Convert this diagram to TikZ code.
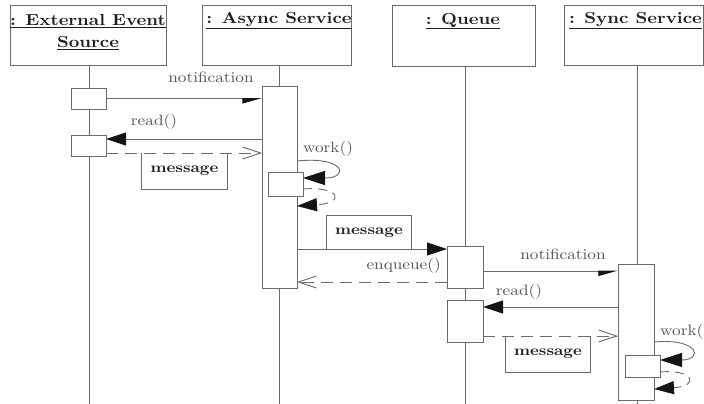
\documentclass[tikz,border=0pt]{standalone}
\usepackage{fontspec}
\setmainfont{lmroman10-regular}[Extension=.otf, BoldFont=lmroman10-bold, FakeStretch=1.15]
\usetikzlibrary{arrows.meta}
\definecolor{lc}{gray}{0.42}
\definecolor{tc}{gray}{0.12}
\definecolor{lt}{gray}{0.33}
\definecolor{ah}{gray}{0.08}
\begin{document}
\begin{tikzpicture}[x=1pt,y=-1pt,
  ln/.style={draw=lc, line width=0.9pt},
  obox/.style={ln, fill=white, inner sep=0pt, outer sep=0pt, anchor=north west},
  life/.style={ln},
  hdr/.style={font=\fontsize{16}{19}\selectfont\bfseries, text=tc, inner sep=0pt},
  lbl/.style={font=\fontsize{15}{17}\selectfont, text=lt, inner sep=0pt},
  msg/.style={font=\fontsize{14.5}{17}\selectfont\bfseries, text=tc, inner sep=0pt},
  sync/.style={ln, -{Triangle[length=20pt,width=13pt,color=ah]}},
  async/.style={ln, -{Triangle[length=18pt,width=10pt,right,color=ah]}},
  ret/.style={ln, dash pattern=on 12pt off 7pt, -{Straight Barb[length=18pt,width=12pt]}},
  selfcall/.style={ln, -{Triangle[length=22pt,width=14pt,color=ah]}},
  selfret/.style={ln, dash pattern=on 9pt off 6pt, -{Triangle[length=20pt,width=13pt,color=ah]}},
]
\useasboundingbox (0,0) rectangle (704,404);
\fill[white] (0,0) rectangle (704,404);

% header boxes
\node[obox, minimum width=156pt, minimum height=60pt] (hE) at (10,5) {};
\node[obox, minimum width=149pt, minimum height=60pt] (hA) at (202,5) {};
\node[obox, minimum width=143pt, minimum height=61pt] (hQ) at (392,5) {};
\node[obox, minimum width=139pt, minimum height=60pt] (hS) at (564,5) {};

\node[hdr] (tE1) at (88,21) {\underline{: External Event}};
\node[hdr] (tE2) at (88,43) {\underline{Source}};
\node[hdr] (tA) at (279,21) {\underline{: Async Service}};
\node[hdr] (tQ) at (463,21) {\underline{: Queue}};
\node[hdr, anchor=west] (tS) at (569,21) {\underline{: Sync Service}};

% activation box positions
\coordinate (pe1) at (71,88);
\coordinate (pe2) at (71,135);
\coordinate (paB) at (262,86);
\coordinate (paN) at (268,172);
\coordinate (pq1) at (447,246);
\coordinate (pq2) at (447,300);
\coordinate (psB) at (618,264);
\coordinate (psN) at (625,355);

% lifelines
\draw[life] (89,0 |- hE.south) -- (89,404);
\draw[life] (279,0 |- hA.south) -- (279,404);
\draw[life] (465,0 |- hQ.south) -- (465,404);
\draw[life] (637,0 |- hS.south) -- (637,404);

\node[obox, minimum width=35pt, minimum height=21pt] (e1) at (pe1) {};
\node[obox, minimum width=35pt, minimum height=21pt] (e2) at (pe2) {};
\node[obox, minimum width=35pt, minimum height=202pt] (aB) at (paB) {};
\node[obox, minimum width=35pt, minimum height=24pt] (aN) at (paN) {};
\node[obox, minimum width=36pt, minimum height=42pt] (q1) at (pq1) {};
\node[obox, minimum width=36pt, minimum height=42pt] (q2) at (pq2) {};
\node[obox, minimum width=36pt, minimum height=136pt] (sB) at (psB) {};
\node[obox, minimum width=35pt, minimum height=22pt] (sN) at (psN) {};

% external <-> async
\draw[async] (e1.east) -- (e1.east -| aB.west);
\node[lbl] (l1) at (211,77) {notification};
\draw[sync] (aB.west |- 0,139) -- (e2.east |- 0,139);
\node[lbl] (l2) at (154,122) {read()};
\draw[ret] (e2.east |- 0,153) -- (aB.west |- 0,153);
\node[msg, minimum width=85pt, minimum height=36pt] (m1) at (184.5,171) {message};
\draw[ln] (m1.north west) |- (m1.south east) -- (m1.north east);

% work() on async
\node[lbl] (w1) at (328,149) {work()};
\draw[selfcall] (aB.east |- 0,161) .. controls (345,156) and (350,178) .. (aN.east |- 0,178);
\draw[selfret] (aN.east |- 0,189) .. controls (340,186) and (346,203) .. (aB.east |- 0,206);

% async -> queue
\node[msg, minimum width=84pt, minimum height=33pt] (m2) at (369,232.5) {message};
\draw[ln] (m2.south west) |- (m2.north east) -- (m2.south east);
\draw[sync] (aB.east |- 0,249) -- (q1.west |- 0,249);
\node[lbl, anchor=east] (l3) at (441,266) {enqueue()};
\draw[ret] (q1.west |- 0,282) -- (aB.east |- 0,282);

% queue <-> sync
\draw[async] (q1.east |- 0,271) -- (sB.west |- 0,271);
\node[lbl] (l4) at (563,254) {notification};
\draw[sync] (sB.west |- 0,307) -- (q2.east |- 0,307);
\node[lbl] (l5) at (519,292) {read()};
\draw[ret] (q2.east |- 0,336) -- (sB.west |- 0,336);
\node[msg, minimum width=84pt, minimum height=36pt] (m3) at (548,354) {message};
\draw[ln] (m3.north west) |- (m3.south east) -- (m3.north east);

% work() on sync
\node[lbl, anchor=west] (w2) at (660,332) {work()};
\draw[selfcall] (sB.east |- 0,342) .. controls (700,338) and (703,360) .. (sN.east |- 0,360);
\draw[selfret] (sN.east |- 0,372) .. controls (694,369) and (700,386) .. (sB.east |- 0,389);
\end{tikzpicture}
\end{document}
